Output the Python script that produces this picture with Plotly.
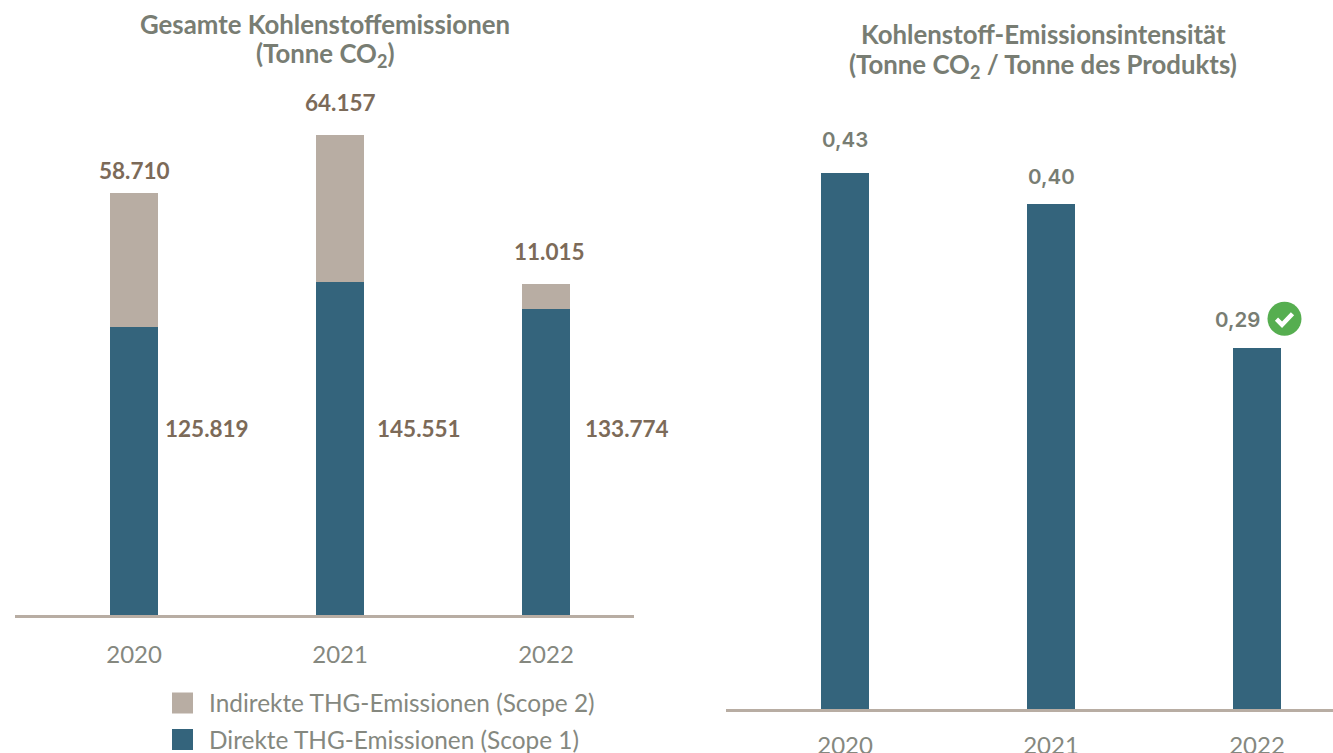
import plotly.graph_objects as go

W, H = 1333, 753
years = ["2020", "2021", "2022"]
scope1 = [125819, 145551, 133774]
scope2 = [58710, 64157, 11015]
intensity = [0.43, 0.405, 0.29]
scope1_labels = ["125.819", "145.551", "133.774"]
scope2_labels = ["58.710", "64.157", "11.015"]
intensity_labels = ["0,43", "0,40", "0,29"]

BLUE = "#34647C"
TAN = "#B8ADA3"
BROWN = "#7C6A58"
GREY = "#787D73"
TICK = "#85887F"
FONT = "Lato"


def px(x):
    return x / W


def py(y):
    return 1 - y / H


fig = go.Figure()
fig.add_bar(x=years, y=scope1, name="Direkte THG-Emissionen (Scope 1)", marker_color=BLUE,
            marker_line_width=0, xaxis="x", yaxis="y", showlegend=False)
fig.add_bar(x=years, y=scope2, name="Indirekte THG-Emissionen (Scope 2)", marker_color=TAN,
            marker_line_width=0, xaxis="x", yaxis="y", showlegend=False)
fig.add_bar(x=years, y=intensity, name="Kohlenstoff-Emissionsintensität", marker_color=BLUE,
            marker_line_width=0, xaxis="x2", yaxis="y2", showlegend=False)

ann = []


def text(s, x, y, size, color, bold=False, xanchor="center"):
    ann.append(dict(text=s, x=px(x), y=py(y), xref="paper", yref="paper", showarrow=False,
                    xanchor=xanchor, yanchor="middle",
                    font=dict(family=FONT, size=size, color=color, weight=700 if bold else 400)))


text("Gesamte Kohlenstoffemissionen", 325, 24, 25.8, GREY, True)
text("(Tonne CO<sub>2</sub>)", 325, 55, 25.8, GREY, True)
text("Kohlenstoff-Emissionsintensität", 1043, 34, 25.8, GREY, True)
text("(Tonne CO<sub>2</sub> / Tonne des Produkts)", 1043, 66, 25.8, GREY, True)

# value labels anchored on the bars
tops = [a + b for a, b in zip(scope1, scope2)]
for i, (t, lab, dx, dy) in enumerate(zip(tops, scope2_labels, [0, 0, 3], [22, 32, 32])):
    ann.append(dict(text=lab, x=i, y=t, xref="x", yref="y", showarrow=False, xshift=dx, yshift=dy,
                    yanchor="middle", font=dict(family=FONT, size=22.5, color=BROWN, weight=700)))
for i, (lab, dx) in enumerate(zip(scope1_labels, [73, 79, 81])):
    ann.append(dict(text=lab, x=i, y=py(428), xref="x", yref="paper", showarrow=False, xshift=dx,
                    yanchor="middle", font=dict(family=FONT, size=22.5, color=BROWN, weight=700)))
for i, (v, lab, dx, dy) in enumerate(zip(intensity, intensity_labels, [0, 0, -20], [34, 28, 28])):
    ann.append(dict(text=lab, x=i, y=v, xref="x2", yref="y2", showarrow=False, xshift=dx, yshift=dy,
                    yanchor="middle", font=dict(family="Inter", size=20.5, color=GREY, weight=600)))

# legend
shapes = []
for yy, col, lab in [(703, TAN, "Indirekte THG-Emissionen (Scope 2)"),
                     (739.5, BLUE, "Direkte THG-Emissionen (Scope 1)")]:
    shapes.append(dict(type="rect", xref="paper", yref="paper", x0=px(172), x1=px(193),
                       y0=py(yy - 10.5), y1=py(yy + 10.5), fillcolor=col, line_width=0))
    text(lab, 207, yy - 0.5, 24.4, TICK, False, "left")

# green check badge
cx, cy, r = 1284.5, 318.7, 17
shapes.append(dict(type="circle", xref="paper", yref="paper", x0=px(cx - r), x1=px(cx + r),
                   y0=py(cy - r), y1=py(cy + r), fillcolor="#56AE50", line_width=0))
pts = [(cx - 8, cy + 0.5), (cx - 2.5, cy + 6), (cx + 8, cy - 5)]
path = "M " + " L ".join(f"{px(a):.5f},{py(b):.5f}" for a, b in pts)
shapes.append(dict(type="path", xref="paper", yref="paper", path=path,
                   line=dict(color="white", width=4.5)))

base1, top1 = 615, 80
base2, top2 = 709, 80
axis_common = dict(type="category", showgrid=False, zeroline=False, showline=True, linecolor=TAN, linewidth=3,
                   ticks="", automargin=False, tickfont=dict(family=FONT, size=24, color=TICK))
fig.update_layout(
    width=W, height=H, margin=dict(l=0, r=0, t=0, b=0, autoexpand=False), autosize=False,
    paper_bgcolor="white", plot_bgcolor="white", barmode="stack", bargap=0.767,
    xaxis=dict(domain=[px(15), px(634)], range=[-0.578, 2.427], anchor="y", ticklabelstandoff=16, **axis_common),
    yaxis=dict(domain=[py(base1), py(top1)], range=[0, (base1 - top1) / 0.002289], visible=False, anchor="x",
               automargin=False),
    xaxis2=dict(domain=[px(726), 1], range=[-0.578, 2.369], anchor="y2", ticklabelstandoff=13, **axis_common),
    yaxis2=dict(domain=[py(base2), py(top2)], range=[0, (base2 - top2) / 1246], visible=False, anchor="x2",
                automargin=False),
    annotations=ann, shapes=shapes,
)
fig.write_html("out.html", config={"displayModeBar": False, "responsive": False},
               post_script="document.body.style.margin='0';document.body.style.overflow='hidden';")
